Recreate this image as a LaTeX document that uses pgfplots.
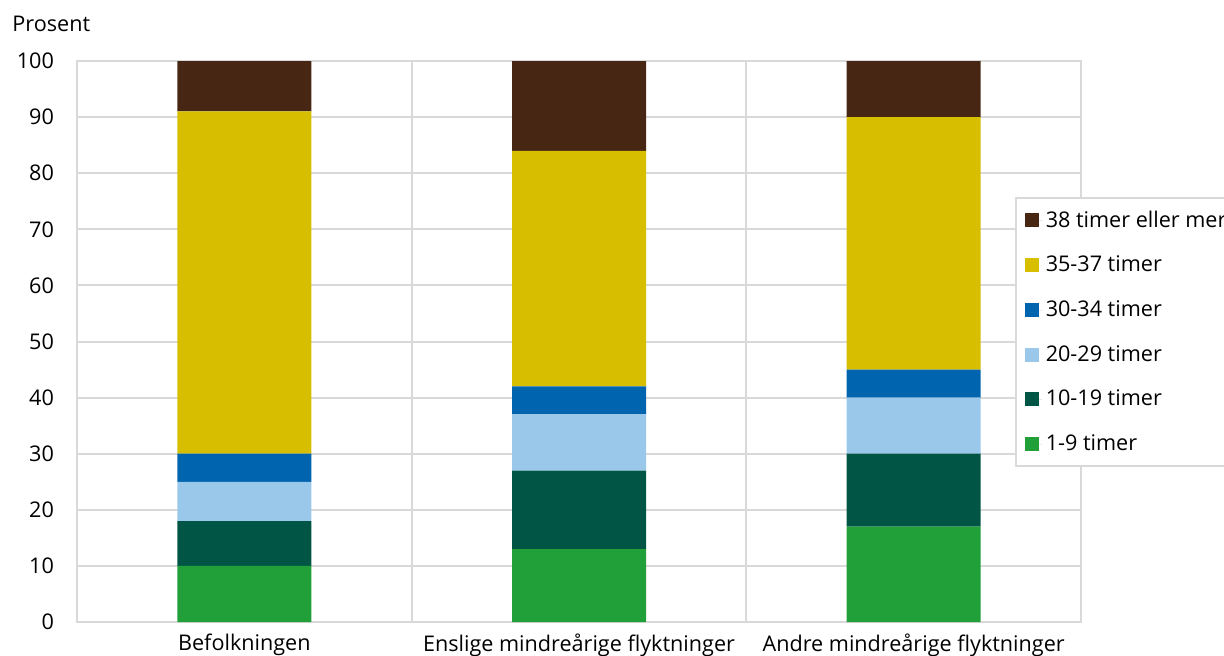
\documentclass[border=0pt]{standalone}
\usepackage{pgfplots}
\pgfplotsset{compat=1.18}
\usepackage{fontspec}
\setmainfont{Open Sans}
\definecolor{c1}{HTML}{21A03A}
\definecolor{c2}{HTML}{005545}
\definecolor{c3}{HTML}{9AC8EB}
\definecolor{c4}{HTML}{0064AF}
\definecolor{c5}{HTML}{D7BF00}
\definecolor{c6}{HTML}{472614}
\definecolor{gridc}{HTML}{D9D9D9}
\pgfplotstableread{
x v1 v2 v3 v4 v5 v6
0.5 10 8 7 5 61 9
1.5 13 14 10 5 42 16
2.5 17 13 10 5 45 10
}\datatable
\begin{document}
\begin{tikzpicture}
\clip (0,0) rectangle (612pt,327.5pt);
\node[anchor=base west, font=\fontsize{10.8}{12}\selectfont, inner sep=0pt] at (6pt,311.5pt) {Prosent};
\begin{axis}[
  at={(38.5pt,16.5pt)}, anchor=south west,
  scale only axis, width=502pt, height=280.5pt,
  ybar stacked, bar width=67pt,
  xmin=0, xmax=3, ymin=0, ymax=100,
  xtick={0.5,1.5,2.5},
  xticklabels={Befolkningen, Enslige mindreårige flyktninger, Andre mindreårige flyktninger},
  minor xtick={1,2},
  xminorgrids, ymajorgrids,
  ytick={0,10,...,100},
  major tick length=0pt, minor tick length=0pt,
  axis line style={gridc, line width=1pt},
  grid style={gridc, line width=1pt},
  minor grid style={gridc, line width=1pt},
  tick label style={font=\fontsize{10.8}{12}\selectfont, text=black},
  yticklabel style={xshift=-8pt},
  xticklabel style={yshift=-2.5pt},
  /pgf/number format/assume math mode=true,
  legend cell align=left,
  reverse legend,
  legend style={at={(0.934,0.758)}, anchor=north west, draw=gridc, line width=1pt, fill=white,
    font=\fontsize{10.8}{12}\selectfont, row sep=8.9pt, inner xsep=4.5pt, inner ysep=4.5pt},
  legend image code/.code={\path (0pt,0pt) -- (8.5pt,0pt);\fill[#1] (0pt,-3.5pt) rectangle (7pt,3.5pt);},
]
\addplot[fill=c1, draw=none] table[x=x,y=v1]{\datatable};
\addplot[fill=c2, draw=none] table[x=x,y=v2]{\datatable};
\addplot[fill=c3, draw=none] table[x=x,y=v3]{\datatable};
\addplot[fill=c4, draw=none] table[x=x,y=v4]{\datatable};
\addplot[fill=c5, draw=none] table[x=x,y=v5]{\datatable};
\addplot[fill=c6, draw=none] table[x=x,y=v6]{\datatable};
\legend{1-9 timer, 10-19 timer, 20-29 timer, 30-34 timer, 35-37 timer, 38 timer eller mer}
\end{axis}
\end{tikzpicture}
\end{document}
